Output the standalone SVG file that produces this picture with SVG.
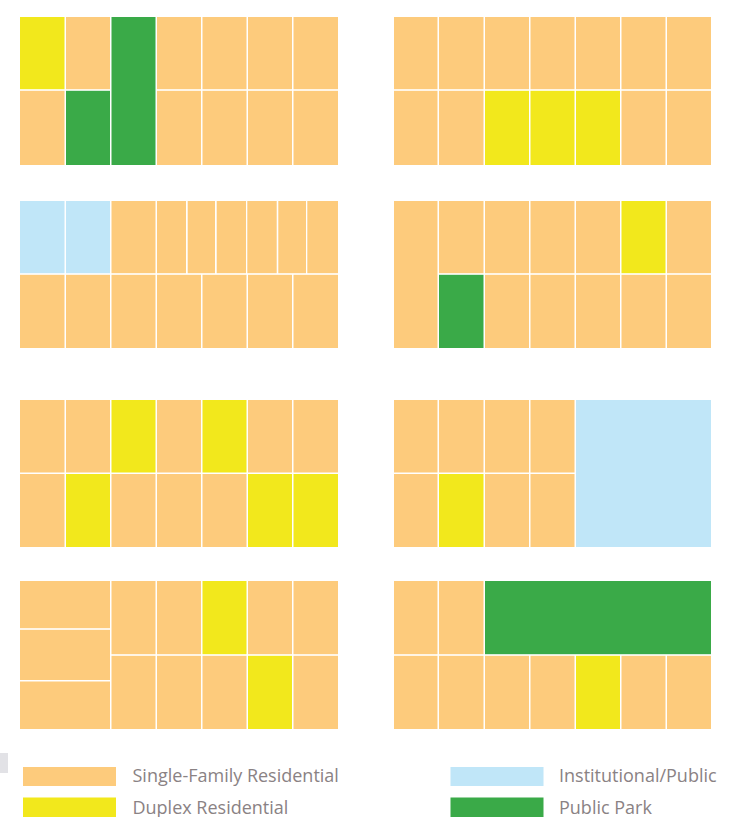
<svg xmlns="http://www.w3.org/2000/svg" width="732" height="817" viewBox="0 0 732 817">
<style>
.sf{fill:#fdcb7c}
.dp{fill:#f2e81c}
.ip{fill:#c0e6f8}
.pk{fill:#3aaa48}
.lbl{font-family:"Open Sans","Liberation Sans",sans-serif;font-size:18px;fill:#8a8284}
</style>
<rect width="732" height="817" fill="#ffffff"/>
<g id="block1">
<rect class="dp" x="20" y="17" width="44.5" height="72.2"/>
<rect class="sf" x="66" y="17" width="44" height="72.2"/>
<rect class="pk" x="111.5" y="17" width="44" height="148"/>
<rect class="sf" x="157" y="17" width="44" height="72.2"/>
<rect class="sf" x="202.5" y="17" width="44" height="72.2"/>
<rect class="sf" x="248" y="17" width="44" height="72.2"/>
<rect class="sf" x="293.5" y="17" width="44.5" height="72.2"/>
<rect class="sf" x="20" y="90.8" width="44.5" height="74.2"/>
<rect class="pk" x="66" y="90.8" width="44" height="74.2"/>
<rect class="sf" x="157" y="90.8" width="44" height="74.2"/>
<rect class="sf" x="202.5" y="90.8" width="44" height="74.2"/>
<rect class="sf" x="248" y="90.8" width="44" height="74.2"/>
<rect class="sf" x="293.5" y="90.8" width="44.5" height="74.2"/>
</g>
<g id="block2">
<rect class="sf" x="394" y="17" width="43.5" height="72.2"/>
<rect class="sf" x="439" y="17" width="44.5" height="72.2"/>
<rect class="sf" x="485" y="17" width="44" height="72.2"/>
<rect class="sf" x="530.5" y="17" width="44" height="72.2"/>
<rect class="sf" x="576" y="17" width="44" height="72.2"/>
<rect class="sf" x="621.5" y="17" width="44" height="72.2"/>
<rect class="sf" x="667" y="17" width="44" height="72.2"/>
<rect class="sf" x="394" y="90.8" width="43.5" height="74.2"/>
<rect class="sf" x="439" y="90.8" width="44.5" height="74.2"/>
<rect class="dp" x="485" y="90.8" width="44" height="74.2"/>
<rect class="dp" x="530.5" y="90.8" width="44" height="74.2"/>
<rect class="dp" x="576" y="90.8" width="44" height="74.2"/>
<rect class="sf" x="621.5" y="90.8" width="44" height="74.2"/>
<rect class="sf" x="667" y="90.8" width="44" height="74.2"/>
</g>
<g id="block3">
<rect class="ip" x="20" y="201" width="44.5" height="72.2"/>
<rect class="ip" x="66" y="201" width="44" height="72.2"/>
<rect class="sf" x="111.5" y="201" width="44" height="72.2"/>
<rect class="sf" x="157" y="201" width="29" height="72.2"/>
<rect class="sf" x="187.7" y="201" width="27.3" height="72.2"/>
<rect class="sf" x="216.7" y="201" width="29.3" height="72.2"/>
<rect class="sf" x="247.3" y="201" width="29.4" height="72.2"/>
<rect class="sf" x="278.3" y="201" width="27.7" height="72.2"/>
<rect class="sf" x="307.3" y="201" width="30.7" height="72.2"/>
<rect class="sf" x="20" y="274.8" width="44.5" height="73.2"/>
<rect class="sf" x="66" y="274.8" width="44" height="73.2"/>
<rect class="sf" x="111.5" y="274.8" width="44" height="73.2"/>
<rect class="sf" x="157" y="274.8" width="44" height="73.2"/>
<rect class="sf" x="202.5" y="274.8" width="44" height="73.2"/>
<rect class="sf" x="248" y="274.8" width="44" height="73.2"/>
<rect class="sf" x="293.5" y="274.8" width="44.5" height="73.2"/>
</g>
<g id="block4">
<rect class="sf" x="394" y="201" width="43.5" height="147"/>
<rect class="sf" x="439" y="201" width="44.5" height="72.2"/>
<rect class="sf" x="485" y="201" width="44" height="72.2"/>
<rect class="sf" x="530.5" y="201" width="44" height="72.2"/>
<rect class="sf" x="576" y="201" width="44" height="72.2"/>
<rect class="dp" x="621.5" y="201" width="44" height="72.2"/>
<rect class="sf" x="667" y="201" width="44" height="72.2"/>
<rect class="pk" x="439" y="274.8" width="44.5" height="73.2"/>
<rect class="sf" x="485" y="274.8" width="44" height="73.2"/>
<rect class="sf" x="530.5" y="274.8" width="44" height="73.2"/>
<rect class="sf" x="576" y="274.8" width="44" height="73.2"/>
<rect class="sf" x="621.5" y="274.8" width="44" height="73.2"/>
<rect class="sf" x="667" y="274.8" width="44" height="73.2"/>
</g>
<g id="block5">
<rect class="sf" x="20" y="400" width="44.5" height="72.5"/>
<rect class="sf" x="66" y="400" width="44" height="72.5"/>
<rect class="dp" x="111.5" y="400" width="44" height="72.5"/>
<rect class="sf" x="157" y="400" width="44" height="72.5"/>
<rect class="dp" x="202.5" y="400" width="44" height="72.5"/>
<rect class="sf" x="248" y="400" width="44" height="72.5"/>
<rect class="sf" x="293.5" y="400" width="44.5" height="72.5"/>
<rect class="sf" x="20" y="474" width="44.5" height="73"/>
<rect class="dp" x="66" y="474" width="44" height="73"/>
<rect class="sf" x="111.5" y="474" width="44" height="73"/>
<rect class="sf" x="157" y="474" width="44" height="73"/>
<rect class="sf" x="202.5" y="474" width="44" height="73"/>
<rect class="dp" x="248" y="474" width="44" height="73"/>
<rect class="dp" x="293.5" y="474" width="44.5" height="73"/>
</g>
<g id="block6">
<rect class="sf" x="394" y="400" width="43.5" height="72.5"/>
<rect class="sf" x="439" y="400" width="44.5" height="72.5"/>
<rect class="sf" x="485" y="400" width="44" height="72.5"/>
<rect class="sf" x="530.5" y="400" width="44" height="72.5"/>
<rect class="sf" x="394" y="474" width="43.5" height="73"/>
<rect class="dp" x="439" y="474" width="44.5" height="73"/>
<rect class="sf" x="485" y="474" width="44" height="73"/>
<rect class="sf" x="530.5" y="474" width="44" height="73"/>
<rect class="ip" x="576" y="400" width="135" height="147"/>
</g>
<g id="block7">
<rect class="sf" x="20" y="581" width="90" height="47.2"/>
<rect class="sf" x="20" y="629.8" width="90" height="50.2"/>
<rect class="sf" x="20" y="681.5" width="90" height="47.5"/>
<rect class="sf" x="111.5" y="581" width="44" height="73.2"/>
<rect class="sf" x="157" y="581" width="44" height="73.2"/>
<rect class="dp" x="202.5" y="581" width="44" height="73.2"/>
<rect class="sf" x="248" y="581" width="44" height="73.2"/>
<rect class="sf" x="293.5" y="581" width="44.5" height="73.2"/>
<rect class="sf" x="111.5" y="655.8" width="44" height="73.2"/>
<rect class="sf" x="157" y="655.8" width="44" height="73.2"/>
<rect class="sf" x="202.5" y="655.8" width="44" height="73.2"/>
<rect class="dp" x="248" y="655.8" width="44" height="73.2"/>
<rect class="sf" x="293.5" y="655.8" width="44.5" height="73.2"/>
</g>
<g id="block8">
<rect class="sf" x="394" y="581" width="43.5" height="73.2"/>
<rect class="sf" x="439" y="581" width="44.5" height="73.2"/>
<rect class="pk" x="485" y="581" width="226" height="73.2"/>
<rect class="sf" x="394" y="655.8" width="43.5" height="73.2"/>
<rect class="sf" x="439" y="655.8" width="44.5" height="73.2"/>
<rect class="sf" x="485" y="655.8" width="44" height="73.2"/>
<rect class="sf" x="530.5" y="655.8" width="44" height="73.2"/>
<rect class="dp" x="576" y="655.8" width="44" height="73.2"/>
<rect class="sf" x="621.5" y="655.8" width="44" height="73.2"/>
<rect class="sf" x="667" y="655.8" width="44" height="73.2"/>
</g>
<rect x="0" y="753" width="8" height="20" fill="#e2e2e6"/>
<g id="legend">
<g id="legend-sf">
<rect class="sf" x="23" y="767" width="93" height="19"/>
<text class="lbl" x="132.5" y="782">Single-Family Residential</text>
</g>
<g id="legend-dp">
<rect class="dp" x="23" y="797.5" width="93" height="19.5"/>
<text class="lbl" x="132.5" y="813.5">Duplex Residential</text>
</g>
<g id="legend-ip">
<rect class="ip" x="450.5" y="767" width="93" height="19"/>
<text class="lbl" x="559" y="782">Institutional/Public</text>
</g>
<g id="legend-pk">
<rect class="pk" x="450.5" y="797.5" width="93" height="19.5"/>
<text class="lbl" x="559" y="813.5">Public Park</text>
</g>
</g>
</svg>
